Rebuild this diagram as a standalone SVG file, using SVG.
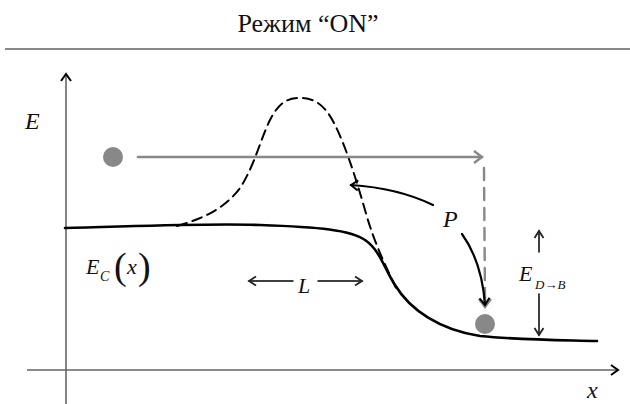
<svg xmlns="http://www.w3.org/2000/svg" width="630" height="404" viewBox="0 0 630 404">
<defs>
<style>
.it{font-style:italic}
.ax{stroke:#666;stroke-width:1.6;fill:none}
.blk{stroke:#000;fill:none;stroke-linecap:round;stroke-linejoin:round}
.gry{stroke:#888;fill:none;stroke-linecap:round;stroke-linejoin:round}
.dot{fill:#888}
</style>
<marker id="chB" viewBox="0 0 12 12" refX="10" refY="6" markerWidth="12" markerHeight="12" markerUnits="userSpaceOnUse" orient="auto">
<path d="M3,1 L10,6 L3,11" fill="none" stroke="#000" stroke-width="2"/>
</marker>
<marker id="chG" viewBox="0 0 14 14" refX="12" refY="7" markerWidth="14" markerHeight="14" markerUnits="userSpaceOnUse" orient="auto">
<path d="M4,1 L12,7 L4,13" fill="none" stroke="#888" stroke-width="2.4"/>
</marker>
<marker id="chS" viewBox="0 0 12 12" refX="10" refY="6" markerWidth="12" markerHeight="12" markerUnits="userSpaceOnUse" orient="auto">
<path d="M3,1.5 L10,6 L3,10.5" fill="none" stroke="#222" stroke-width="1.8"/>
</marker>
</defs>
<rect width="630" height="404" fill="#fff"/>

<g id="title">
<text font-family="Liberation Serif, serif" x="308" y="32" font-size="26" text-anchor="middle" fill="#111">Режим “ON”</text>
<line x1="5" y1="49" x2="630" y2="49" stroke="#888" stroke-width="2.2"/>
</g>

<g id="axes" font-family="Liberation Serif, serif" fill="#111">
<line class="ax" x1="66" y1="404" x2="66" y2="74" marker-end="url(#chB)"/>
<line class="ax" x1="27" y1="370" x2="618" y2="370" marker-end="url(#chB)"/>
<text class="it" x="25" y="129" font-size="24">E</text>
<text class="it" x="587" y="398" font-size="24">x</text>
</g>

<g id="curve-ec">
<path class="blk" stroke-width="2.6" d="M65,228 C120,227 200,223 260,225 C320,227 350,230 365,240 C380,250 385,270 395,285 C410,310 440,330 480,336 C520,340 560,340 597,341"/>
<g id="label-ec" font-family="Liberation Serif, serif" fill="#111">
<text class="it" x="86" y="274" font-size="22">E</text>
<text class="it" x="100" y="281" font-size="14">C</text>
<text x="114" y="279" font-size="38">(</text>
<text class="it" x="127" y="274" font-size="22">x</text>
<text x="138" y="279" font-size="38">)</text>
</g>
</g>

<g id="barrier">
<path class="blk" stroke-width="2" stroke-dasharray="10,6" d="M177,226 C205,218 225,208 240,188 C255,165 260,140 270,120 C280,100 290,98 300,98 C315,98 325,105 335,125 C345,145 355,175 365,210 C372,235 380,255 397,290"/>
</g>

<g id="electron-start">
<circle class="dot" cx="113" cy="157" r="10"/>
</g>
<g id="electron-end">
<circle class="dot" cx="485" cy="324" r="10"/>
</g>

<g id="connectors">
<line class="gry" stroke-width="2.6" x1="138" y1="157" x2="482" y2="157" marker-end="url(#chG)"/>
<line class="gry" stroke-width="2.4" stroke-dasharray="12,8" x1="484" y1="168" x2="485" y2="300"/>
<line class="gry" stroke-width="2.4" x1="485" y1="296" x2="485" y2="307" marker-end="url(#chG)"/>
<path class="blk" stroke-width="2.2" d="M433,205 Q398,188 351,185" marker-end="url(#chB)"/>
<path class="blk" stroke-width="2.2" d="M462,234 Q482,262 485,305" marker-end="url(#chB)"/>
<line class="blk" stroke="#222" stroke-width="1.5" x1="293" y1="281" x2="249" y2="281" marker-end="url(#chS)"/>
<line class="blk" stroke="#222" stroke-width="1.5" x1="318" y1="281" x2="362" y2="281" marker-end="url(#chS)"/>
<line class="blk" stroke="#222" stroke-width="1.5" x1="539" y1="252" x2="539" y2="231" marker-end="url(#chS)"/>
<line class="blk" stroke="#222" stroke-width="1.5" x1="539" y1="294" x2="539" y2="335" marker-end="url(#chS)"/>
</g>

<g id="label-p" font-family="Liberation Serif, serif" fill="#111">
<text class="it" x="443" y="227" font-size="24">P</text>
</g>
<g id="label-l" font-family="Liberation Serif, serif" fill="#111">
<text class="it" x="298" y="293" font-size="22">L</text>
</g>
<g id="label-edb" font-family="Liberation Serif, serif" fill="#111">
<text class="it" x="519" y="281" font-size="22">E</text>
<text class="it" x="535" y="289" font-size="13">D→B</text>
</g>
</svg>
